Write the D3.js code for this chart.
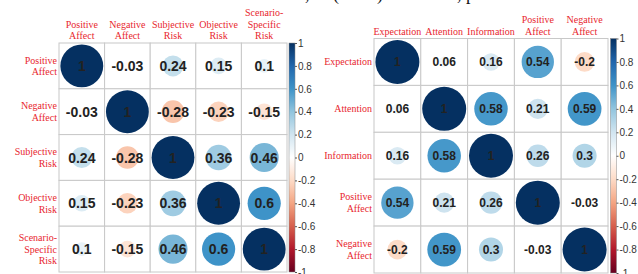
<!DOCTYPE html>
<html>
<head>
<meta charset="utf-8">
<script src="https://cdn.jsdelivr.net/npm/d3@7"></script>
<style>
  body { margin: 0; background: #fff; }
  svg { display: block; }
</style>
</head>
<body>
<svg id="chart" width="638" height="274"></svg>
<script>
// left panel: affect vs risk
var leftCols = [["Positive","Affect"],["Negative","Affect"],["Subjective","Risk"],["Objective","Risk"],["Scenario-","Specific","Risk"]];
var leftRows = [["Positive","Affect"],["Negative","Affect"],["Subjective","Risk"],["Objective","Risk"],["Scenario-","Specific","Risk"]];
var leftValues = [
	[1, -0.03, 0.24, 0.15, 0.1],
	[-0.03, 1, -0.28, -0.23, -0.15],
	[0.24, -0.28, 1, 0.36, 0.46],
	[0.15, -0.23, 0.36, 1, 0.6],
	[0.1, -0.15, 0.46, 0.6, 1]
];
// right panel: expectation, attention, information, affect
var rightCols = [["Expectation"],["Attention"],["Information"],["Positive","Affect"],["Negative","Affect"]];
var rightRows = [["Expectation"],["Attention"],["Information"],["Positive","Affect"],["Negative","Affect"]];
var rightValues = [
	[1, 0.06, 0.16, 0.54, -0.2],
	[0.06, 1, 0.58, 0.21, 0.59],
	[0.16, 0.58, 1, 0.26, 0.3],
	[0.54, 0.21, 0.26, 1, -0.03],
	[-0.2, 0.59, 0.3, -0.03, 1]
];
var barTicks = [1, 0.8, 0.6, 0.4, 0.2, 0, -0.2, -0.4, -0.6, -0.8, -1];
// corrplot RdBu palette, from -1 to 1
var paletteColors = ["#67001F","#B2182B","#D6604D","#F4A582","#FDDBC7","#FFFFFF","#D1E5F0","#92C5DE","#3E93C8","#2166AC","#053061"];

var svg = d3.select("#chart");
var color = d3.scaleLinear()
	.domain(d3.range(paletteColors.length).map(function(i){ return -1 + 2*i/(paletteColors.length-1); }))
	.range(paletteColors);

var grad = svg.append("defs").append("linearGradient")
	.attr("id", "cbar").attr("x1", 0).attr("y1", 1).attr("x2", 0).attr("y2", 0);
paletteColors.forEach(function(c, i){
	grad.append("stop").attr("offset", i/(paletteColors.length-1)).attr("stop-color", c);
});

// cut off caption line at the very top
var capGlyphs = [[",",305],["(",333],[")",377],[",",457],["p",466]];
svg.selectAll("text.cap").data(capGlyphs).enter().append("text")
	.attr("class", "cap")
	.attr("x", function(d){ return d[1]; }).attr("y", 0)
	.style("font", "18px 'Liberation Serif'").style("fill", "#111")
	.text(function(d){ return d[0]; });

function drawPanel(cfg) {
	var n = cfg.values.length;
	var g = svg.append("g");
	var x = d3.scaleBand().domain(d3.range(n)).range([cfg.x0, cfg.x1]);
	var y = d3.scaleBand().domain(d3.range(n)).range([cfg.y0, cfg.y1]);
	var rMax = 0.47 * x.bandwidth();
	var rad = d3.scaleSqrt().domain([0, 1]).range([0, rMax]);

	var cells = [];
	cfg.values.forEach(function(row, i){
		row.forEach(function(v, j){ cells.push({i: i, j: j, v: v}); });
	});

	// grid
	g.selectAll("rect.cell").data(cells).enter().append("rect")
		.attr("class", "cell")
		.attr("x", function(d){ return x(d.j); })
		.attr("y", function(d){ return y(d.i); })
		.attr("width", x.bandwidth()).attr("height", y.bandwidth())
		.style("fill", "#fff").style("stroke", "#c8c8c8").style("stroke-width", 1);

	g.selectAll("circle").data(cells).enter().append("circle")
		.attr("cx", function(d){ return x(d.j) + x.bandwidth()/2; })
		.attr("cy", function(d){ return y(d.i) + y.bandwidth()/2; })
		.attr("r", function(d){ return rad(Math.abs(d.v)); })
		.style("fill", function(d){ return color(d.v); });

	g.selectAll("text.val").data(cells).enter().append("text")
		.attr("class", "val")
		.attr("x", function(d){ return x(d.j) + x.bandwidth()/2; })
		.attr("y", function(d){ return y(d.i) + y.bandwidth()/2; })
		.attr("dy", "0.36em")
		.attr("text-anchor", "middle")
		.style("font", "bold " + cfg.valSize + "px 'Liberation Sans', Arial, sans-serif")
		.style("fill", "#222")
		.text(function(d){ return String(d.v); });

	// column labels, stacked upward from the grid top
	cfg.cols.forEach(function(lines, j){
		var t = g.append("text")
			.attr("text-anchor", "middle")
			.style("font", "10px 'Liberation Serif', 'Times New Roman', serif")
			.style("fill", "#e8262e");
		lines.forEach(function(s, k){
			t.append("tspan")
				.attr("x", x(j) + x.bandwidth()/2)
				.attr("y", cfg.y0 - 4 - (lines.length - 1 - k) * 11.5)
				.text(s);
		});
	});
	// row labels
	cfg.rows.forEach(function(lines, i){
		var cy = y(i) + y.bandwidth()/2;
		var t = g.append("text")
			.attr("text-anchor", "end")
			.style("font", "10px 'Liberation Serif', 'Times New Roman', serif")
			.style("fill", "#e8262e");
		lines.forEach(function(s, k){
			t.append("tspan")
				.attr("x", cfg.x0 - 2)
				.attr("y", cy - (lines.length - 1) * 5.75 + k * 11.5 + 3.5)
				.text(s);
		});
	});

	// colour bar
	var cb = d3.scaleLinear().domain([-1, 1]).range([cfg.y1, cfg.y0]);
	g.append("rect")
		.attr("x", cfg.cbx).attr("y", cfg.y0)
		.attr("width", 6).attr("height", cfg.y1 - cfg.y0)
		.style("fill", "url(#cbar)").style("stroke", "#888").style("stroke-width", 0.5);
	var axis = d3.axisRight(cb).tickValues(barTicks).tickSize(2).tickPadding(1)
		.tickFormat(function(d){ return String(d); });
	var ax = g.append("g").attr("transform", "translate(" + (cfg.cbx + 6) + ",0)").call(axis);
	ax.select(".domain").remove();
	ax.selectAll("line").style("stroke", "#555");
	ax.selectAll("text").style("font", "10px 'Liberation Sans', Arial, sans-serif").style("fill", "#333");
}

drawPanel({cols: leftCols, rows: leftRows, values: leftValues,
	x0: 59, x1: 287, y0: 43, y1: 272, cbx: 289, valSize: 14});
drawPanel({cols: rightCols, rows: rightRows, values: rightValues,
	x0: 374, x1: 608, y0: 38.5, y1: 273, cbx: 610.5, valSize: 12});
</script>
</body>
</html>
